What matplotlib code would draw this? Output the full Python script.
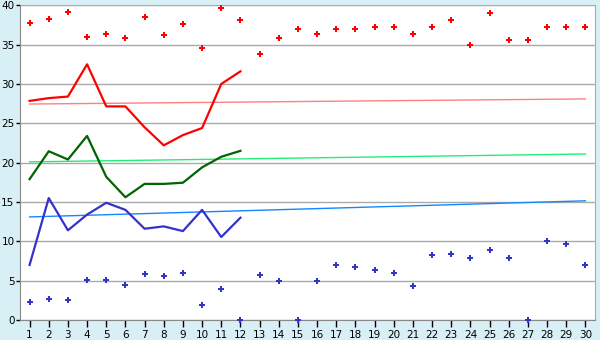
import matplotlib
matplotlib.use("Agg")
import matplotlib.pyplot as plt
import numpy as np

days = list(range(1, 31))
line_days = list(range(1, 13))

red_points = [37.7, 38.3, 39.1, 36.0, 36.3, 35.8, 38.5, 36.2, 37.6, 34.6,
              39.6, 38.1, 33.8, 35.9, 37.05, 36.3, 37.05, 37.05, 37.2, 37.2,
              36.4, 37.2, 38.1, 35.0, 39.0, 35.6, 35.6, 37.2, 37.2, 37.2]
blue_points = [2.35, 2.7, 2.6, 5.1, 5.1, 4.45, 5.85, 5.6, 6.0, 1.9,
               4.0, 0.0, 5.7, 5.0, 0.0, 5.0, 7.0, 6.75, 6.35, 6.0,
               4.3, 8.2, 8.35, 7.85, 8.9, 7.85, 0.0, 10.0, 9.6, 7.05]

red_line = [27.85, 28.2, 28.4, 32.5, 27.15, 27.15, 24.5, 22.2, 23.5, 24.4, 30.0, 31.6]
green_line = [17.9, 21.45, 20.4, 23.4, 18.2, 15.6, 17.3, 17.3, 17.45, 19.4, 20.75, 21.5]
blue_line = [7.0, 15.5, 11.4, 13.4, 14.9, 14.0, 11.6, 11.9, 11.3, 14.0, 10.55, 13.0]

red_trend = [27.45, 28.1]
green_trend = [20.1, 21.1]
blue_trend = [13.1, 15.15]
trend_days = [1, 30]

yticks = [0, 5, 10, 15, 20, 25, 30, 35, 40]

fig = plt.figure(figsize=(6, 3.4), dpi=100)
fig.patch.set_facecolor("#d9eff6")
ax = fig.add_axes([20/600, 20/340, 575/600, 314.7/340])
ax.set_facecolor("white")

for y in yticks:
    ax.axhline(y, color="#aaaaaa", lw=1.0, zorder=1)

ax.plot(trend_days, red_trend, color="#ff8080", lw=1.0, zorder=2)
ax.plot(trend_days, green_trend, color="#22ee77", lw=1.0, zorder=2)
ax.plot(trend_days, blue_trend, color="#1188ff", lw=1.0, zorder=2)

ax.plot(line_days, red_line, color="#ff0000", lw=1.6, zorder=3)
ax.plot(line_days, green_line, color="#006400", lw=1.6, zorder=3)
ax.plot(line_days, blue_line, color="#3333cc", lw=1.6, zorder=3)

ax.scatter(days, red_points, marker="P", s=24, color="#ff0000", linewidths=0, zorder=4, clip_on=False)
ax.scatter(days, blue_points, marker="P", s=24, color="#3333cc", linewidths=0, zorder=4, clip_on=False)

ax.set_xlim(0.5, 30.5)
ax.set_ylim(0, 40)
ax.set_xticks(days)
ax.set_xticklabels([str(d) for d in days])
ax.set_yticks(yticks)
ax.tick_params(axis="both", labelsize=7.5, colors="black", length=5, width=1, direction="out", pad=2)
ax.tick_params(axis="y", length=3, pad=1)
ax.spines["top"].set_visible(False)
ax.spines["left"].set_color("#888888")
ax.spines["right"].set_color("#aaaaaa")
ax.spines["bottom"].set_color("#888888")

fig.savefig("out.png", dpi=100, facecolor=fig.get_facecolor())
